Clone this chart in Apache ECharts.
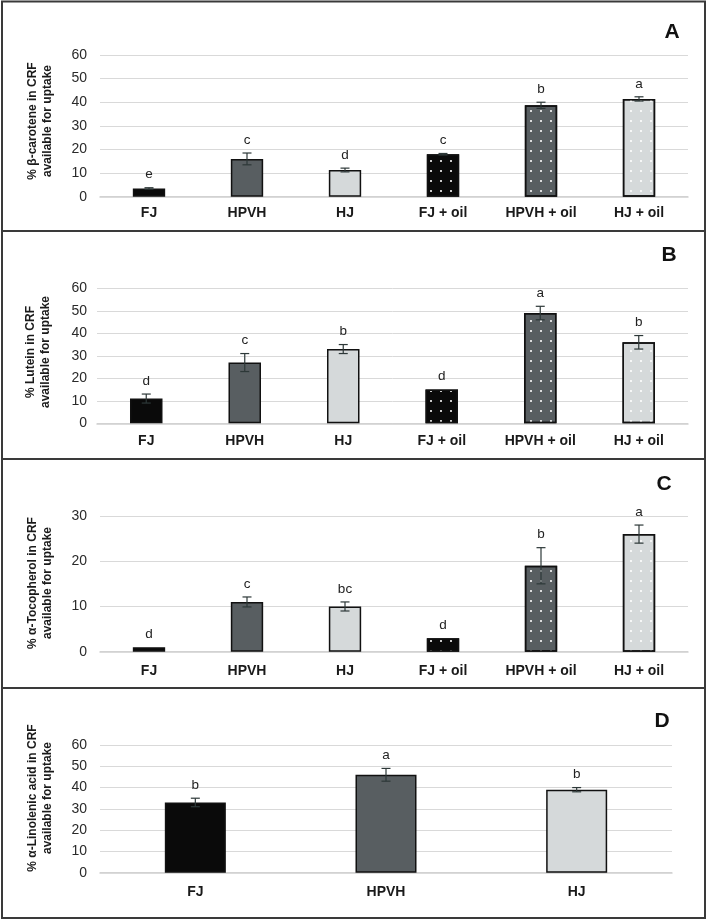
<!DOCTYPE html>
<html>
<head>
<meta charset="utf-8">
<script src="https://cdn.jsdelivr.net/npm/echarts@6/dist/echarts.min.js"></script>
<style>
html,body{margin:0;padding:0;background:#fff;}
#chart{width:708px;height:920px;}
</style>
</head>
<body>
<div id="chart"></div>
<script>
// ---- data ----
var catsMain = ['FJ', 'HPVH', 'HJ', 'FJ + oil', 'HPVH + oil', 'HJ + oil'];
var catsD = ['FJ', 'HPVH', 'HJ'];

var betaCarotene = [3.5, 16, 11.3, 18, 38.7, 41.4];
var betaCaroteneErr = [0.3, 2.5, 0.8, 0.3, 1.3, 0.9];
var betaCaroteneLetters = ['e', 'c', 'd', 'c', 'b', 'a'];

var lutein = [11, 27, 33, 15, 49, 36];
var luteinErr = [2, 4, 2, 0, 3, 3];
var luteinLetters = ['d', 'c', 'b', 'd', 'a', 'b'];

var tocopherol = [1, 11, 10, 3, 19, 26];
var tocopherolErr = [0, 1.1, 1, 0, 4, 2];
var tocopherolLetters = ['d', 'c', 'bc', 'd', 'b', 'a'];

var linolenic = [33, 46, 39];
var linolenicErr = [2, 3, 1];
var linolenicLetters = ['b', 'a', 'b'];

var yTicksMain = [0, 10, 20, 30, 40, 50, 60];
var yTicksC = [0, 10, 20, 30];

// ---- style ----
var FONT = 'Liberation Sans, Arial, sans-serif';
var fills = ['#0a0a0a', '#585e61', '#d5d9da', '#0a0a0a', '#585e61', '#d5d9da'];
var dotted = [false, false, false, true, true, true];
var dotDecal = {
  symbol: 'rect',
  symbolSize: 1,
  dashArrayX: [1.4, 7.8],
  dashArrayY: [1.4, 7.1],
  rotation: 0,
  color: 'rgba(255,255,255,0.78)'
};

function barData(vals) {
  return vals.map(function (v, i) {
    var it = { value: v, itemStyle: { color: fills[i], borderColor: '#111', borderWidth: 1.5 } };
    if (dotted[i]) it.itemStyle.decal = dotDecal;
    return it;
  });
}

function errSeries(idx, vals, errs, letters) {
  return {
    type: 'custom',
    xAxisIndex: idx, yAxisIndex: idx,
    z: 10,
    data: vals.map(function (v, i) { return [i, v, errs[i]]; }),
    renderItem: function (params, api) {
      var i = api.value(0), v = api.value(1), e = api.value(2);
      var top = api.coord([i, v + e]);
      var bot = api.coord([i, v - e]);
      var children = [];
      var stroke = { stroke: '#2d3838', lineWidth: 1.2 };
      if (e > 0) {
        children.push({ type: 'line', shape: { x1: top[0], y1: top[1], x2: bot[0], y2: bot[1] }, style: stroke });
        children.push({ type: 'line', shape: { x1: top[0] - 4.5, y1: top[1], x2: top[0] + 4.5, y2: top[1] }, style: stroke });
        children.push({ type: 'line', shape: { x1: bot[0] - 4.5, y1: bot[1], x2: bot[0] + 4.5, y2: bot[1] }, style: stroke });
      }
      children.push({
        type: 'text',
        style: {
          text: letters[params.dataIndex], x: top[0], y: top[1] - 13,
          align: 'center', verticalAlign: 'middle',
          fill: '#222', fontSize: 13.5, fontFamily: FONT
        }
      });
      return { type: 'group', children: children };
    }
  };
}

var gridLine = { show: true, lineStyle: { color: '#d9d9d9', width: 1 } };

function xAx(idx, cats, margin) {
  return {
    type: 'category', gridIndex: idx, data: cats,
    axisLine: { show: true, lineStyle: { color: '#cfcfcf', width: 1.5 } },
    axisTick: { show: false },
    axisLabel: { fontFamily: FONT, fontWeight: 'bold', fontSize: 14, color: '#1a1a1a', margin: margin }
  };
}
function yAx(idx, ticks, margin) {
  return {
    type: 'value', gridIndex: idx,
    min: ticks[0], max: ticks[ticks.length - 1], interval: ticks[1] - ticks[0],
    axisLine: { show: false }, axisTick: { show: false },
    splitLine: gridLine,
    axisLabel: { fontFamily: FONT, fontSize: 14, color: '#2a2a2a', margin: margin }
  };
}

function yTitle(lines, cx, cy) {
  return {
    type: 'text', x: cx, y: cy, rotation: Math.PI / 2,
    style: {
      text: lines.join('\n'), x: 0, y: 0, align: 'center', verticalAlign: 'middle',
      fill: '#1a1a1a', fontFamily: FONT, fontWeight: 'bold', fontSize: 12, lineHeight: 15
    }
  };
}
function panelLetter(t, x, y) {
  return {
    type: 'text', x: x, y: y,
    style: { text: t, x: 0, y: 0, align: 'center', verticalAlign: 'middle', fill: '#111', fontFamily: FONT, fontWeight: 'bold', fontSize: 21 }
  };
}

var option = {
  animation: false,
  backgroundColor: '#fff',
  grid: [
    { left: 100, right: 20, top: 55, height: 141.7 },
    { left: 97, right: 20, top: 288.3, height: 135 },
    { left: 100, right: 20, top: 516, height: 135.7 },
    { left: 100, right: 36, top: 745, height: 127.7 }
  ],
  xAxis: [xAx(0, catsMain, 9), xAx(1, catsMain, 11), xAx(2, catsMain, 12), xAx(3, catsD, 12)],
  yAxis: [yAx(0, yTicksMain, 13), yAx(1, yTicksMain, 10), yAx(2, yTicksC, 13), yAx(3, yTicksMain, 13)],
  series: [
    { type: 'bar', xAxisIndex: 0, yAxisIndex: 0, barWidth: '33%', data: barData(betaCarotene) },
    { type: 'bar', xAxisIndex: 1, yAxisIndex: 1, barWidth: '33%', data: barData(lutein) },
    { type: 'bar', xAxisIndex: 2, yAxisIndex: 2, barWidth: '33%', data: barData(tocopherol) },
    { type: 'bar', xAxisIndex: 3, yAxisIndex: 3, barWidth: '32%', data: barData(linolenic) },
    errSeries(0, betaCarotene, betaCaroteneErr, betaCaroteneLetters),
    errSeries(1, lutein, luteinErr, luteinLetters),
    errSeries(2, tocopherol, tocopherolErr, tocopherolLetters),
    errSeries(3, linolenic, linolenicErr, linolenicLetters)
  ],
  graphic: [
    { type: 'rect', shape: { x: 2, y: 1.5, width: 703, height: 916.5 }, style: { fill: 'none', stroke: '#3a3a3a', lineWidth: 2 } },
    { type: 'line', shape: { x1: 2, y1: 231, x2: 705, y2: 231 }, style: { stroke: '#3a3a3a', lineWidth: 2 } },
    { type: 'line', shape: { x1: 2, y1: 459, x2: 705, y2: 459 }, style: { stroke: '#3a3a3a', lineWidth: 2 } },
    { type: 'line', shape: { x1: 2, y1: 688, x2: 705, y2: 688 }, style: { stroke: '#3a3a3a', lineWidth: 2 } },
    yTitle(['% β-carotene in CRF', 'available for uptake'], 40, 121),
    yTitle(['% Lutein in CRF', 'available for uptake'], 38, 352),
    yTitle(['% α-Tocopherol in CRF', 'available for uptake'], 40, 583),
    yTitle(['% α-Linolenic acid in CRF', 'available for uptake'], 40, 798),
    panelLetter('A', 672, 32),
    panelLetter('B', 669, 255),
    panelLetter('C', 664, 484),
    panelLetter('D', 662, 721)
  ]
};

var chart = echarts.init(document.getElementById('chart'), null, { renderer: 'canvas' });
chart.setOption(option);
</script>
</body>
</html>
